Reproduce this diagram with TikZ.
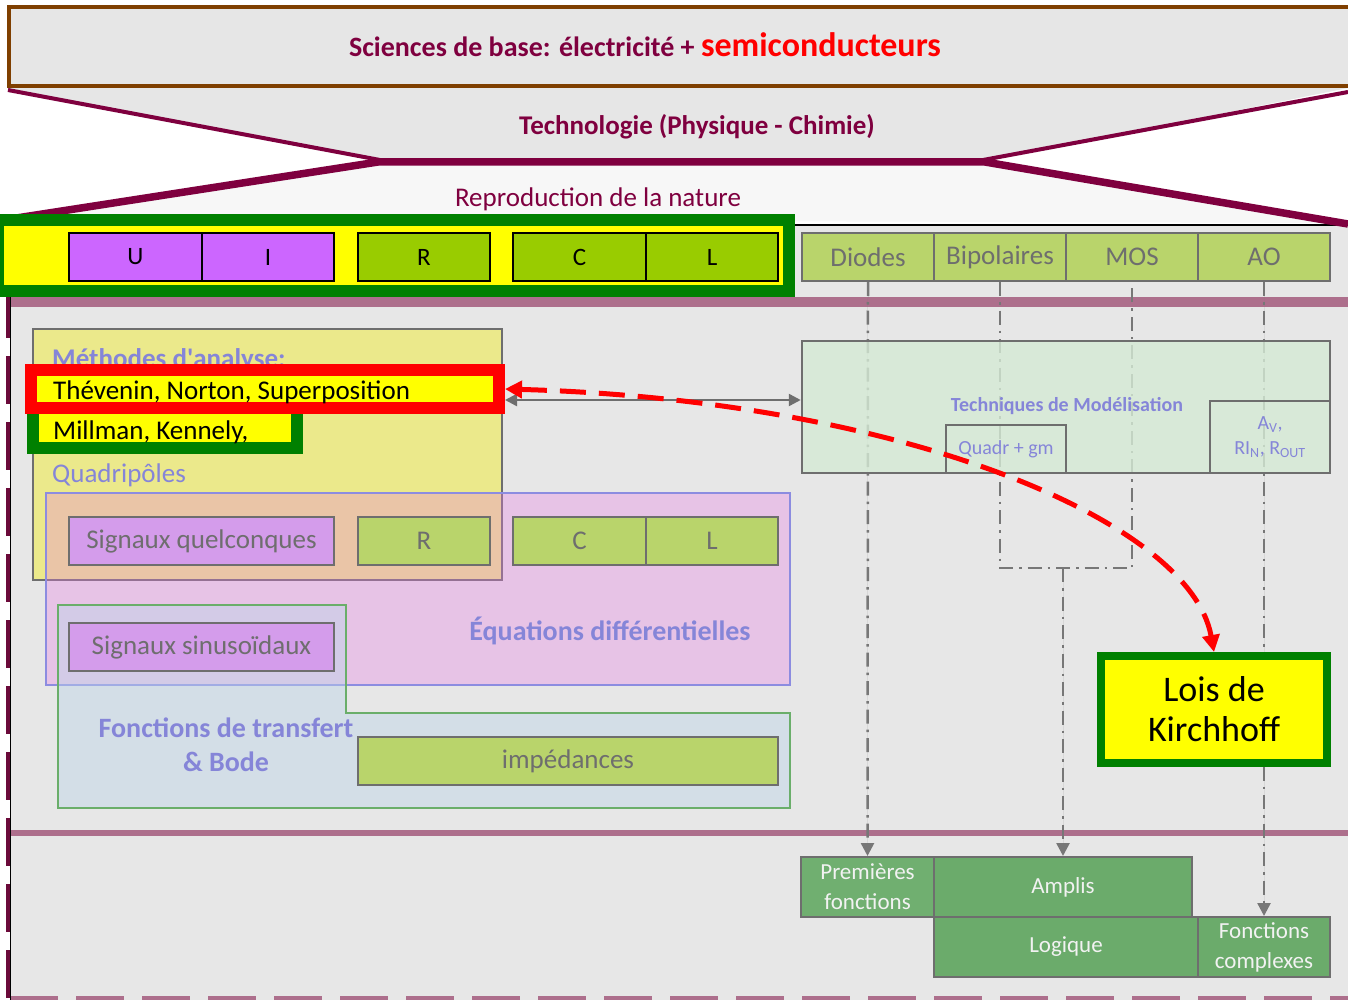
\documentclass[tikz,border=0pt]{standalone}
\usepackage{fontspec}
\setmainfont{Carlito}
\usetikzlibrary{arrows.meta,calc}
\definecolor{maroonc}{HTML}{7F003F}
\definecolor{brownc}{HTML}{7F3F00}
\definecolor{grayA}{HTML}{E6E6E6}
\definecolor{grayB}{HTML}{F7F7F7}
\definecolor{bgmain}{HTML}{E7E7E7}
\definecolor{bandc}{HTML}{AD6F8C}
\definecolor{darkband}{HTML}{6B0A3A}
\definecolor{greenc}{HTML}{008000}
\definecolor{yellowc}{HTML}{FFFF00}
\definecolor{purpleA}{HTML}{CC66FF}
\definecolor{greenA}{HTML}{99CC00}
\definecolor{oliveC}{HTML}{B9D46B}
\definecolor{grayc}{HTML}{6E6E6E}
\definecolor{peri}{HTML}{8585D8}
\definecolor{periB}{HTML}{8C8CE0}
\definecolor{methy}{HTML}{EBE98B}
\definecolor{violetc}{HTML}{EA7AE4}
\definecolor{bluec}{HTML}{BBD5E9}
\definecolor{greenL}{HTML}{6AAE6A}
\definecolor{purpleB}{HTML}{D49CEB}
\definecolor{modg}{HTML}{D5EAD5}
\definecolor{boxg}{HTML}{6BAB6B}
\definecolor{boxg2}{HTML}{70AF70}
\definecolor{ddc}{HTML}{777777}
\definecolor{lightt}{HTML}{F2F2F2}
\newcommand\fsz[2]{\fontsize{#1}{#2}\selectfont}
\begin{document}
\begin{tikzpicture}[x=1pt,y=-1pt,
  every node/.style={inner sep=0pt},
  bx/.style={draw=grayc, line width=2pt, minimum height=48pt, text=grayc, font=\fsz{27}{32}},
  tbx/.style={bx, fill=oliveC},
  ubx/.style={draw=black, line width=1.5pt, minimum height=48pt, font=\fsz{25}{30}},
  dd/.style={draw=ddc, line width=2.5pt, dash pattern=on 14pt off 6pt on 2.5pt off 6pt},
  ddarrow/.style={dd, -{Triangle[width=13pt,length=13pt]}, fill=ddc},
  bbx/.style={draw=grayc, line width=2pt, fill=boxg, text=lightt, font=\fsz{23}{30}, minimum height=60pt, align=center},
  lbl/.style={text=peri, font=\bfseries\fsz{28}{34}},
]
\useasboundingbox (0,0) rectangle (1348,1000);
\fill[white] (0,0) rectangle (1348,1000);
% main area
\fill[bgmain] (10,225) rectangle (1348,1000);
\draw[black, line width=2pt] (780,225) -- (1348,225);
% trapezoids
\fill[grayA] (7,88) -- (1348,88) -- (985,161) -- (378,161) -- cycle;
\fill[grayB] (378,161) -- (985,161) -- (1348,223) -- (10,219) -- cycle;
\draw[maroonc, line width=4pt] (8,90) -- (380,160);
\draw[maroonc, line width=4pt] (1348,92) -- (983,160);
\draw[maroonc, line width=7.5pt] (10,219) -- (378,162) -- (985,162) -- (1348,224);
\draw[brownc, line width=4pt, fill=grayA] (9,7) rectangle (1360,86);
\node[font=\bfseries\fsz{28}{34}, text=maroonc] (sci) at (645,45) {Sciences de base: électricité + {\color{red}\fsz{34}{40}semiconducteurs}};
\node[font=\bfseries\fsz{27}{32}, text=maroonc] (techno) at (697,127) {Technologie (Physique - Chimie)};
\node[font=\fsz{27}{32}, text=maroonc] (repro) at (598,199) {Reproduction de la nature};
% bands and borders
\draw[bandc, line width=10pt] (10,302) -- (1348,302);
\draw[bandc, line width=6pt] (10,833) -- (1348,833);
\draw[bandc, line width=6pt, dash pattern=on 48pt off 18pt] (10,999) -- (1348,999);
\draw[darkband, line width=5pt, dash pattern=on 48pt off 18pt] (8.5,290) -- (8.5,1000);
\draw[black, line width=1.5pt] (10.5,297) -- (10.5,1000);
% top left box
\node[draw=greenc, line width=12pt, fill=yellowc, minimum width=791pt, minimum height=71pt] (topbox) at (393.5,255.5) {};
\node[ubx, fill=purpleA, minimum width=133pt] (U) at (135.5,257) {U};
\node[ubx, fill=purpleA, minimum width=132pt] (I) at (268,257) {I};
\node[ubx, fill=greenA, minimum width=132pt] (R1) at (424,257) {R};
\node[ubx, fill=greenA, minimum width=133pt] (C1) at (579.5,257) {C};
\node[ubx, fill=greenA, minimum width=132pt] (L1) at (712,257) {L};
% technology boxes
\node[tbx, minimum width=132pt] (diodes) at (868,257) {Diodes};
\node[tbx, minimum width=132pt] (bip) at (1000,257) {Bipolaires};
\node[tbx, minimum width=132pt] (mos) at (1132,257) {MOS};
\node[tbx, minimum width=132pt] (ao) at (1264,257) {AO};
% bottom boxes
\node[bbx, fill=boxg2, minimum width=133pt] (prem) at (867.5,887) {Premières\\fonctions};
\node[bbx, minimum width=258pt] (amplis) at (1063,887) {Amplis};
\node[bbx, minimum width=264pt] (logique) at (1066,947) {Logique};
\node[bbx, minimum width=132pt] (fcomp) at (1264,947) {Fonctions\\complexes};
% dash-dot connectors
\coordinate (jn) at (1063,568);
\draw[ddarrow] (diodes.south) -- (prem.north);
\draw[dd] (bip.south) -- (bip.south |- jn) -- (mos.south |- jn) -- (mos.south);
\draw[ddarrow] (jn) -- (amplis.north);
\draw[ddarrow] (ao.south) -- (fcomp.north);
% modelisation
\node[draw=grayc, line width=2.5pt, fill=modg, fill opacity=0.8, minimum width=528pt, minimum height=132pt] (model) at (1066,407) {};
\node[draw=grayc, line width=2.5pt, minimum width=120pt, minimum height=48pt, text=peri, font=\fsz{20}{24}] (quadr) at (1006,449) {Quadr + gm};
\node[draw=grayc, line width=2.5pt, minimum width=120pt, minimum height=72pt, text=peri, font=\fsz{20}{25}, align=center] (av) at (1270,437) {A\textsubscript{V},\\RI\textsubscript{N}, R\textsubscript{OUT}};
\node[text=peri, font=\bfseries\fsz{20}{24}] (tdm) at (1067,406) {Techniques de Modélisation};
% Kirchhoff
\node[draw=greenc, line width=8pt, fill=yellowc, minimum width=226pt, minimum height=107pt, font=\fsz{36}{40}, align=center] (kirch) at (1214,709.5) {Lois de\\Kirchhoff};
% methods
\node[draw=grayc, line width=2pt, fill=methy, minimum width=469pt, minimum height=251pt] (meth) at (267.5,454.5) {};
\node[anchor=base west, text=peri, font=\bfseries\fsz{27}{32}] (methlbl) at (52,367) {Méthodes d\textquotesingle analyse:};
\node[draw=greenc, line width=12pt, fill=yellowc, minimum width=264pt, minimum height=40pt] (millbox) at (165,428) {};
\node[anchor=base west, font=\fsz{27}{32}] (mill) at (53,439) {Millman, Kennely,};
\node[draw=red, line width=12pt, fill=yellowc, minimum width=468pt, minimum height=38pt] (thev) at (265,389) {};
\node[anchor=base west, font=\fsz{27}{32}] (thevtxt) at (53,399) {Thévenin, Norton, Superposition};
\node[anchor=base west, text=peri, font=\fsz{27}{32}] (quadri) at (52,482) {Quadripôles};
% equations box
\node[draw=periB, line width=2pt, fill=violetc, fill opacity=0.32, minimum width=744pt, minimum height=192pt] (eqbox) at (418,589) {};
\draw[draw=greenL, line width=2pt, fill=bluec, fill opacity=0.45] (58,605) -- (346,605) -- (346,713) -- (790,713) -- (790,808) -- (58,808) -- cycle;
\node[bx, fill=purpleB, minimum width=265pt] (sq) at (201.5,541) {Signaux quelconques};
\node[tbx, minimum width=132pt] (R2) at (424,541) {R};
\node[tbx, minimum width=133pt] (C2) at (579.5,541) {C};
\node[tbx, minimum width=132pt] (L2) at (712,541) {L};
\node[bx, fill=purpleB, minimum width=265pt] (ss) at (201.5,647) {Signaux sinusoïdaux};
\node[tbx, minimum width=420pt] (imp) at (568,761) {impédances};
\node[lbl] (eqd) at (610,631) {Équations différentielles};
\node[lbl, align=center] (ftb) at (226,745) {Fonctions de transfert\\\& Bode};
% arrows
\coordinate (ay) at (0,400);
\draw[grayc, line width=2.5pt, {Triangle[width=12pt,length=12pt]}-{Triangle[width=12pt,length=12pt]}] (thev.east |- ay) -- (model.west |- ay);
\draw[red, line width=5pt, dash pattern=on 26pt off 13pt, {Triangle[width=17pt,length=17pt]}-{Triangle[width=17pt,length=17pt]}] (thev.east) .. controls (900,400) and (1190,520) .. (kirch.north);
\end{tikzpicture}
\end{document}
